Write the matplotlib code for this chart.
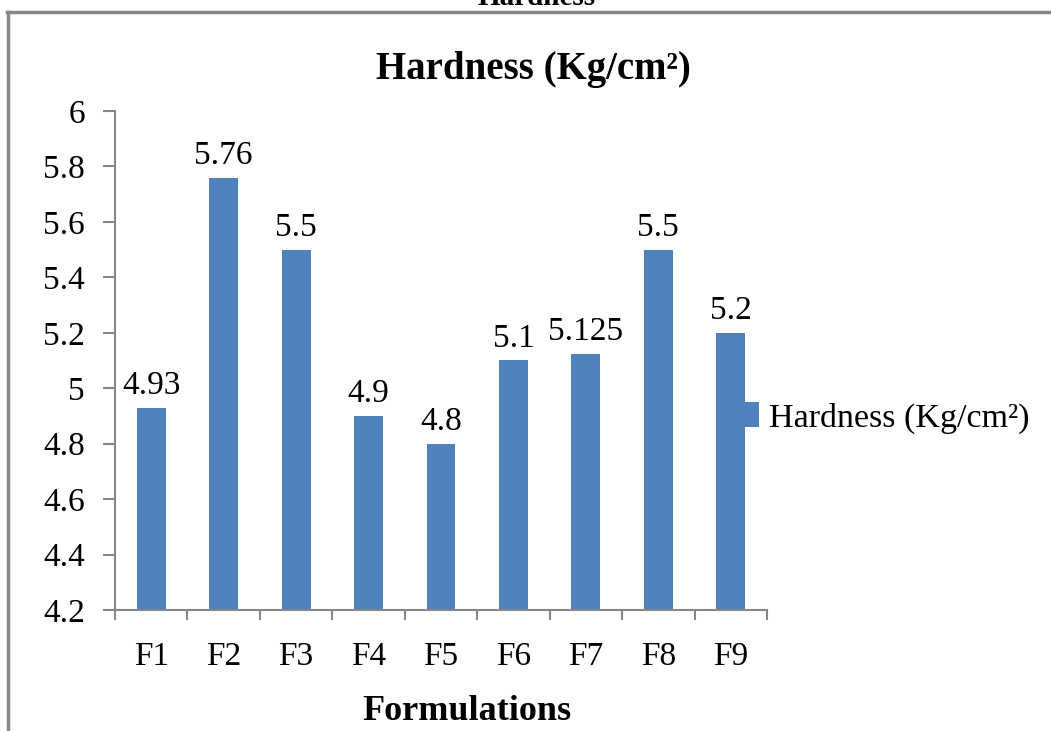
import matplotlib
matplotlib.use('Agg')
import matplotlib.pyplot as plt
from matplotlib.lines import Line2D

# Dureza de cada formulación
formulaciones = ['F1', 'F2', 'F3', 'F4', 'F5', 'F6', 'F7', 'F8', 'F9']
dureza = [4.93, 5.76, 5.5, 4.9, 4.8, 5.1, 5.125, 5.5, 5.2]
etiquetas = ['4.93', '5.76', '5.5', '4.9', '4.8', '5.1', '5.125', '5.5', '5.2']
ticks_y = [4.2, 4.4, 4.6, 4.8, 5, 5.2, 5.4, 5.6, 5.8, 6]
ticks_y_txt = ['4.2', '4.4', '4.6', '4.8', '5', '5.2', '5.4', '5.6', '5.8', '6']

plt.rcParams['font.family'] = ['Liberation Serif', 'DejaVu Serif']
azul = '#4F81BD'
gris = '#868686'

fig = plt.figure(figsize=(10.51, 7.31), dpi=100)
ax = fig.add_axes([0.1094, 0.1655, 0.6204, 0.6827])

x = list(range(len(formulaciones)))
ax.bar(x, dureza, width=0.4, color=azul, label='Hardness (Kg/cm²)')
ax.set_ylim(4.2, 6)
ax.set_xlim(-0.5, len(formulaciones) - 0.5)

# etiquetas de valor sobre cada barra
for xi, v, t in zip(x, dureza, etiquetas):
    ax.annotate(t, (xi, v), xytext=(0, 5), textcoords='offset points',
                ha='center', va='bottom', fontsize=24)

ax.set_yticks(ticks_y)
ax.set_yticklabels(ticks_y_txt, fontsize=24)
ax.set_xticks(x)
ax.set_xticklabels(formulaciones, fontsize=24)
ax.tick_params(axis='x', length=0, pad=23)
ax.set_xticks([i - 0.5 for i in range(len(formulaciones) + 1)], minor=True)
ax.tick_params(axis='x', which='minor', length=7.5, width=1.5, color=gris, direction='out')
ax.tick_params(axis='y', length=8.5, width=1.5, color=gris, direction='out', pad=13)

for lado in ['top', 'right']:
    ax.spines[lado].set_visible(False)
for lado in ['left', 'bottom']:
    ax.spines[lado].set_color(gris)
    ax.spines[lado].set_linewidth(1.5)

ax.set_xlabel('Formulations', fontsize=26, fontweight='bold')
ax.xaxis.set_label_coords(0.54, -0.171)
fig.text(0.508, 0.905, 'Hardness (Kg/cm²)', ha='center', va='center',
         fontsize=28, fontweight='bold')

# título de la página, cortado por el borde superior
fig.text(0.511, 1.004, 'Hardness', ha='center', va='center',
         fontsize=21, fontweight='bold')

ax.legend(loc='center left', bbox_to_anchor=(0.68, 0.428), bbox_transform=fig.transFigure,
          frameon=False, fontsize=24.5, handlelength=0.4, handleheight=0.75,
          handletextpad=0.3)

# marco gris de la figura
fig.add_artist(Line2D([0.0076, 0.0076], [0, 0.983], transform=fig.transFigure,
                      color=gris, linewidth=2.5))
fig.add_artist(Line2D([0.0065, 1.0], [0.983, 0.983], transform=fig.transFigure,
                      color=gris, linewidth=2.5))

fig.savefig('out.png', dpi=100)
